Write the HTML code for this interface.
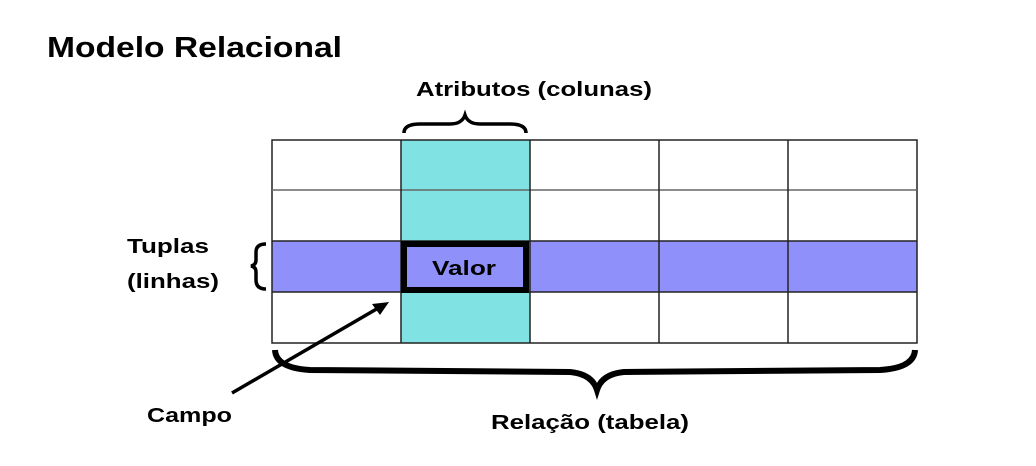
<!DOCTYPE html>
<html><head><meta charset="utf-8"><style>
body{margin:0;background:#fff;width:1036px;height:466px;overflow:hidden}
svg{display:block}
text{font-family:"Liberation Sans","DejaVu Sans",sans-serif;font-weight:bold;fill:#000}
</style></head><body>
<svg width="1036" height="466" viewBox="0 0 1036 466">
<text x="47" y="57" font-size="29" textLength="295" lengthAdjust="spacingAndGlyphs">Modelo Relacional</text>
<text x="416" y="96" font-size="20" textLength="236" lengthAdjust="spacingAndGlyphs">Atributos (colunas)</text>
<text x="127" y="253" font-size="20" textLength="82" lengthAdjust="spacingAndGlyphs">Tuplas</text>
<text x="127" y="288" font-size="20" textLength="92" lengthAdjust="spacingAndGlyphs">(linhas)</text>
<text x="147" y="422" font-size="20" textLength="85" lengthAdjust="spacingAndGlyphs">Campo</text>
<text x="491" y="429" font-size="20" textLength="198" lengthAdjust="spacingAndGlyphs">Relação (tabela)</text>
<rect x="272" y="140" width="645" height="203" fill="#fff"/>
<rect x="401" y="140" width="129" height="203" fill="#80e2e2"/>
<rect x="272" y="241" width="645" height="51" fill="#9090fa"/>
<g stroke="#222" stroke-width="1.5" fill="none">
<rect x="272" y="140" width="645" height="203"/>
<line x1="272" y1="190" x2="917" y2="190" stroke="#666"/>
<line x1="272" y1="241" x2="917" y2="241"/>
<line x1="272" y1="292" x2="917" y2="292"/>
<line x1="401" y1="140" x2="401" y2="343"/>
<line x1="530" y1="140" x2="530" y2="343"/>
<line x1="659" y1="140" x2="659" y2="343"/>
<line x1="788" y1="140" x2="788" y2="343"/>
</g>
<rect x="404" y="244" width="122" height="46" fill="none" stroke="#000" stroke-width="6"/>
<text x="432" y="275" font-size="20" textLength="64" lengthAdjust="spacingAndGlyphs" fill="#111">Valor</text>
<path d="M404 133 Q404 124 420 124 L450 124 Q462 124 465 115 Q468 124 480 124 L510 124 Q526 124 526 133" fill="none" stroke="#000" stroke-width="3.5"/>
<path d="M266 244 Q256 244 256 252 L256 260 Q256 265 251 266 Q256 267 256 272 L256 280 Q256 289 266 289" fill="none" stroke="#000" stroke-width="3.5"/>
<path d="M275 350 Q276 368 310 370 L570 372 Q592 374 597 390 Q602 374 624 372 L880 370 Q914 368 915 350" fill="none" stroke="#000" stroke-width="6"/>
<line x1="232" y1="393" x2="380" y2="307" stroke="#000" stroke-width="3.5"/>
<path d="M389 302 L372 304 L380 315 Z" fill="#000"/>
</svg>
</body></html>
